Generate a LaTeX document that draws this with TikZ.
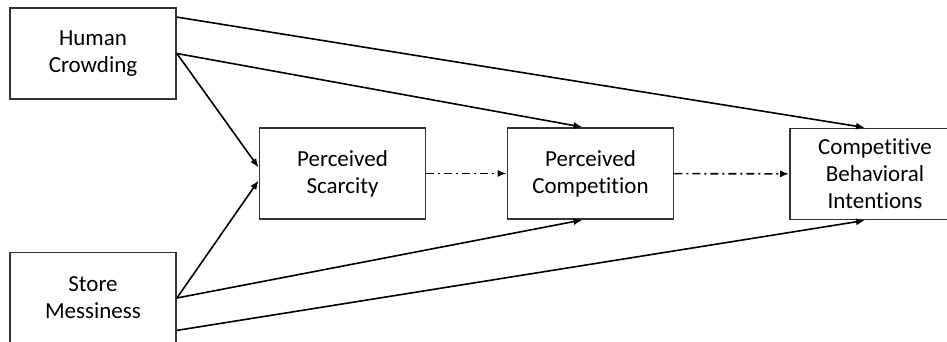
\documentclass[tikz,border=0pt]{standalone}
\usepackage{fontspec}
\setmainfont{Carlito}[Ligatures=NoCommon]
\usetikzlibrary{arrows.meta}

\begin{document}
\begin{tikzpicture}[
    x=0.5pt, y=-0.5pt,
    every node/.style={font=\fontsize{11.5}{13.5}\selectfont},
    box/.style={draw=black!80, line width=0.9pt, align=center, inner sep=0pt,
      minimum width=83pt, minimum height=45.5pt},
    path/.style={line width=0.8pt, -{Latex[length=4.5pt, width=3.5pt]}},
    dashdot/.style={path, dash pattern=on 4pt off 2pt on 1pt off 2pt},
  ]
    % 画布
    \useasboundingbox (0, 0) rectangle (947, 342);
    \clip (0, 0) rectangle (947, 342);

    % 外生变量
    \node[box] (hc) at (93, 53.5) {Human\\Crowding};
    \node[box] (sm) at (93, 298)  {Store\\Messiness};

    % 中介与结果
    \node[box] (ps)  at (342.5, 173.5) {Perceived\\Scarcity};
    \node[box] (pc)  at (590.5, 173.5) {Perceived\\Competition};
    \node[box, minimum width=85pt] (cbi) at (875, 174)
      {Competitive\\Behavioral\\Intentions};

    % 链式路径
    \draw[dashdot] (ps) -- (pc);
    \draw[dashdot] (pc) -- (cbi);

    % Human Crowding 的路径
    \draw[path] ([yshift=-5pt]hc.north east) -- ([xshift=-5pt]cbi.north);
    \draw[path] (hc.east) -- ([xshift=-4pt]pc.north);
    \draw[path] (hc.east) -- ([yshift=3pt]ps.west);

    % Store Messiness 的路径
    \draw[path] (sm.east) -- ([yshift=-3.5pt]ps.west);
    \draw[path] (sm.east) -- ([xshift=-4pt]pc.south);
    \draw[path] ([yshift=7pt]sm.south east) -- ([xshift=-5pt]cbi.south);
  \end{tikzpicture}
\end{document}
